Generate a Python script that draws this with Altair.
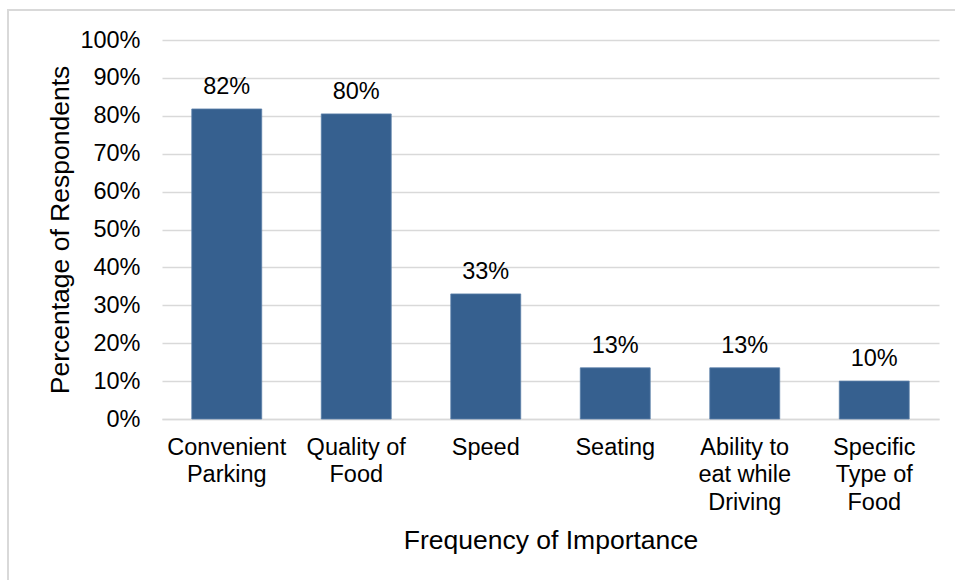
import altair as alt
import pandas as pd

categories = ["Convenient Parking", "Quality of Food", "Speed", "Seating",
              "Ability to eat while Driving", "Specific Type of Food"]
label_lines = [["Convenient", "Parking"], ["Quality of", "Food"], ["Speed"], ["Seating"],
               ["Ability to", "eat while", "Driving"], ["Specific", "Type of", "Food"]]
values = [0.818, 0.805, 0.33, 0.135, 0.135, 0.10]
value_labels = ["82%", "80%", "33%", "13%", "13%", "10%"]
y_ticks = [0, 0.1, 0.2, 0.3, 0.4, 0.5, 0.6, 0.7, 0.8, 0.9, 1.0]

df = pd.DataFrame({"cat": categories, "val": values, "lab": value_labels})

mapping = "{" + ", ".join(
    "'" + c + "': [" + ", ".join("'" + l + "'" for l in ls) + "]"
    for c, ls in zip(categories, label_lines)) + "}"

FONT = "Liberation Sans"
GRID = "#d9d9d9"
LBL = 23.5
TTL = 26.5

x_enc = alt.X("cat:N", sort=categories, scale=alt.Scale(paddingInner=0.46, paddingOuter=0.23),
              axis=alt.Axis(title="Frequency of Importance", labelAngle=0,
                            labelExpr=mapping + "[datum.value]",
                            labelFontSize=LBL, labelFont=FONT, labelColor="#000000",
                            labelPadding=16, labelLineHeight=27.5, labelBaseline="top",
                            labelOverlap=False,
                            ticks=False, domainColor=GRID, domainWidth=1.5,
                            titleFontSize=TTL, titleFont=FONT, titleFontWeight="normal",
                            titleColor="#000000", titleY=121, titleBaseline="middle"))

y_enc = alt.Y("val:Q", scale=alt.Scale(domain=[0, 1]),
              axis=alt.Axis(title="Percentage of Respondents", format=".0%",
                            values=y_ticks, labelOverlap=False,
                            labelFontSize=LBL, labelFont=FONT, labelColor="#000000",
                            labelPadding=22, ticks=False, domain=False,
                            gridColor=GRID, gridWidth=1.5,
                            titleFontSize=TTL, titleFont=FONT, titleFontWeight="normal",
                            titleColor="#000000", titleX=-102, titleBaseline="middle"))

bars = alt.Chart(df).mark_bar(color="#36608f", stroke="#5a7fa8", strokeWidth=0.8).encode(
    x=x_enc, y=y_enc)

text = alt.Chart(df).mark_text(baseline="bottom", dy=-10, fontSize=LBL, font=FONT,
                               color="#000000").encode(
    x=x_enc, y=y_enc, text="lab:N")

frame = alt.Chart(df).mark_rect(fill=None, stroke=GRID, strokeWidth=2).encode(
    x=alt.value(-154), x2=alt.value(830), y=alt.value(-30), y2=alt.value(580))

chart = alt.layer(frame, bars, text).properties(
    width=777, height=379,
    autosize=alt.AutoSizeParams(type="none"),
    padding={"left": 162, "top": 40, "right": 16, "bottom": 161},
    background="white",
).configure_view(stroke=None)

chart.save("out.html", embed_options={"renderer": "svg", "actions": False})
